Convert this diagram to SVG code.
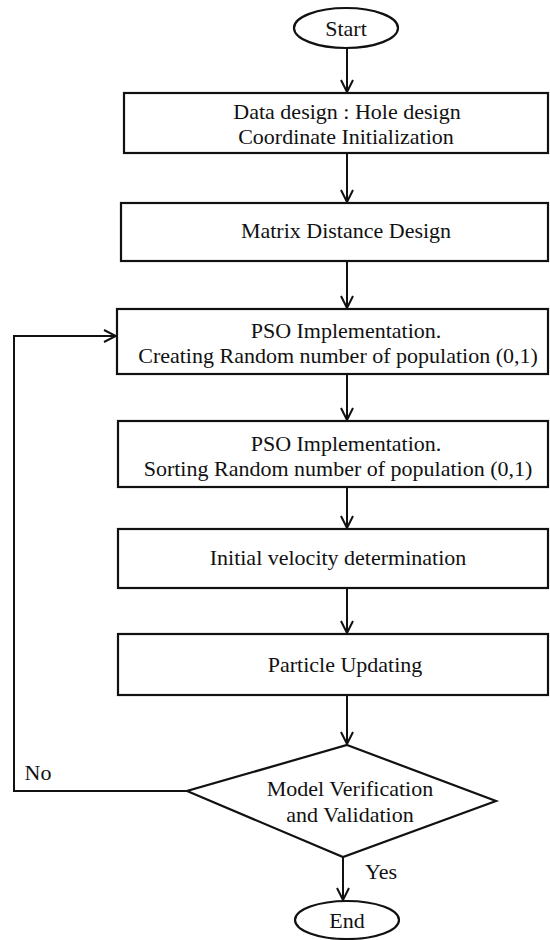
<svg xmlns="http://www.w3.org/2000/svg" width="550" height="940" viewBox="0 0 550 940">
<defs>
<marker id="arr" viewBox="0 0 14 14" refX="13" refY="7" markerWidth="14" markerHeight="14" markerUnits="userSpaceOnUse" orient="auto">
<path d="M1,1 L13,7 L1,13" fill="none" stroke="#111" stroke-width="2"/>
</marker>
<style>
.n{fill:#fff;stroke:#111;stroke-width:2.2}
.t{font-family:"Liberation Serif","Times New Roman",serif;font-size:22px;fill:#111;text-anchor:middle}
.c{fill:none;stroke:#111;stroke-width:2;marker-end:url(#arr)}
.l{fill:none;stroke:#111;stroke-width:2}
</style>
</defs>
<rect width="550" height="940" fill="#fff"/>
<g id="connectors">
<line class="c" x1="347" y1="48" x2="347" y2="92"/>
<line class="c" x1="347" y1="153" x2="347" y2="202"/>
<line class="c" x1="347" y1="261" x2="347" y2="308"/>
<line class="c" x1="347" y1="374" x2="347" y2="420"/>
<line class="c" x1="347" y1="487" x2="347" y2="528"/>
<line class="c" x1="347" y1="588" x2="347" y2="633"/>
<line class="c" x1="347" y1="695" x2="347" y2="744"/>
<line class="c" x1="343" y1="857" x2="343" y2="900"/>
<polyline class="c" points="187,791 14,791 14,336 116,336"/>
<text class="t" x="38" y="780">No</text>
<text class="t" x="381" y="879">Yes</text>
</g>
<g id="start">
<ellipse class="n" cx="346" cy="28" rx="52" ry="20"/>
<text class="t" x="346" y="36">Start</text>
</g>
<g id="data-design">
<rect class="n" x="124" y="93" width="424" height="60"/>
<text class="t" x="347" y="119">Data design : Hole design</text>
<text class="t" x="346" y="144">Coordinate Initialization</text>
</g>
<g id="matrix">
<rect class="n" x="121" y="203" width="427" height="58"/>
<text class="t" x="346" y="238">Matrix Distance Design</text>
</g>
<g id="pso-create">
<rect class="n" x="117" y="309" width="431" height="65"/>
<text class="t" x="346" y="338">PSO Implementation.</text>
<text class="t" x="338" y="363">Creating Random number of population (0,1)</text>
</g>
<g id="pso-sort">
<rect class="n" x="118" y="421" width="430" height="66"/>
<text class="t" x="346" y="451">PSO Implementation.</text>
<text class="t" x="338" y="476">Sorting Random number of population (0,1)</text>
</g>
<g id="velocity">
<rect class="n" x="118" y="529" width="430" height="59"/>
<text class="t" x="338" y="565">Initial velocity determination</text>
</g>
<g id="particle">
<rect class="n" x="118" y="634" width="430" height="61"/>
<text class="t" x="345" y="672">Particle Updating</text>
</g>
<g id="decision">
<polygon class="n" points="347,745 496,801 343,857 187,791"/>
<text class="t" x="350" y="796">Model Verification</text>
<text class="t" x="350" y="822">and Validation</text>
</g>
<g id="end">
<ellipse class="n" cx="347" cy="920" rx="52" ry="19"/>
<text class="t" x="347" y="928">End</text>
</g>
</svg>
